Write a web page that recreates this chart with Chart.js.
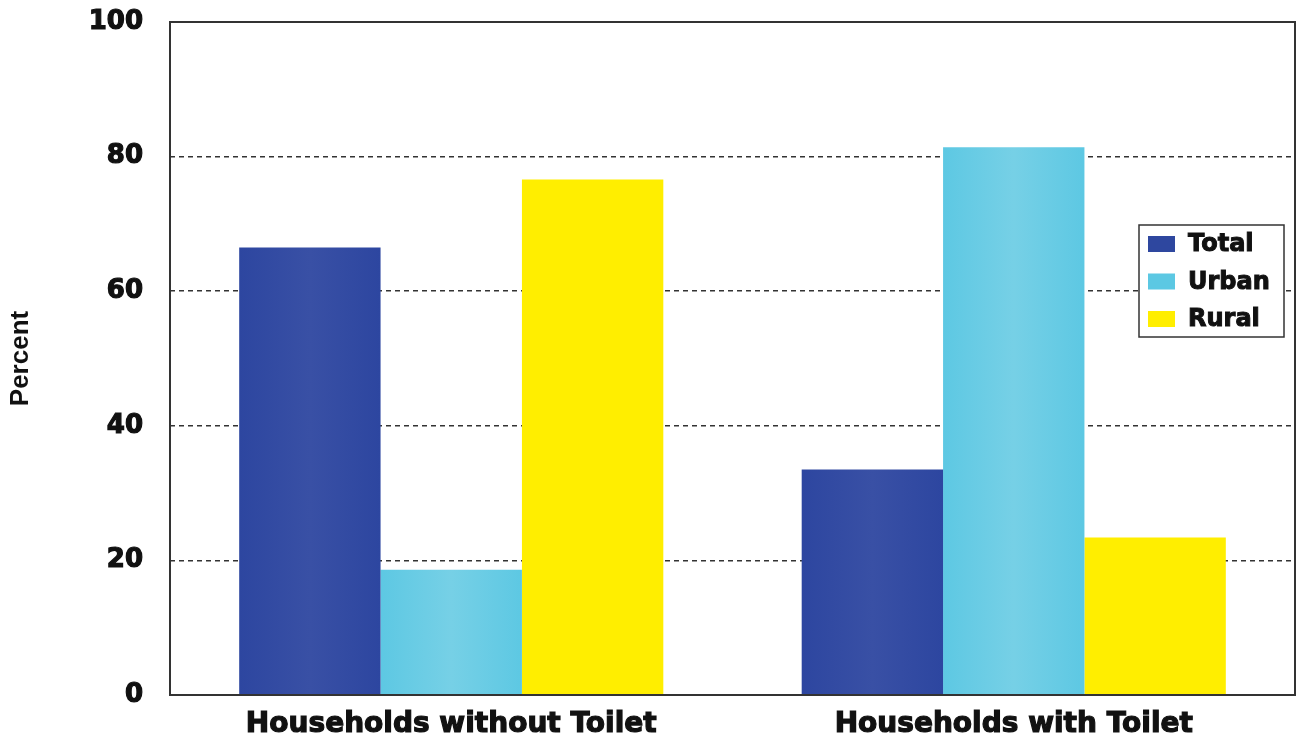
<!DOCTYPE html>
<html>
<head>
<meta charset="utf-8">
<script src="https://cdn.jsdelivr.net/npm/chart.js@4/dist/chart.umd.min.js"></script>
<style>
  html, body { margin: 0; padding: 0; background: #fff; }
  #wrap { width: 1300px; height: 742px; }
</style>
</head>
<body>
<div id="wrap"><canvas id="chart1" width="1300" height="742"></canvas></div>
<script>
const categories = ['Households without Toilet', 'Households with Toilet'];
const totalValues = [66.5, 33.5];
const urbanValues = [18.6, 81.4];
const ruralValues = [76.6, 23.4];
const yTicks = [0, 20, 40, 60, 80, 100];

const CAT_PCT = 0.754;

// horizontal shading across each bar: darker edges, lighter middle
function barShade(edge, mid) {
    return function (ctx) {
        const chart = ctx.chart;
        const x = chart.scales.x;
        if (!x || !chart.chartArea) return edge;
        const nSets = chart.data.datasets.length;
        const catW = (x.right - x.left) / chart.data.labels.length;
        const barW = catW * CAT_PCT / nSets;
        const c = x.getPixelForValue(ctx.dataIndex);
        const left = c - catW * CAT_PCT / 2 + barW * ctx.datasetIndex;
        const g = chart.ctx.createLinearGradient(left, 0, left + barW, 0);
        g.addColorStop(0, edge);
        g.addColorStop(0.5, mid);
        g.addColorStop(1, edge);
        return g;
    };
}

// frame round the plot area
const plotFrame = {
    id: 'plotFrame',
    afterDatasetsDraw(chart) {
        const a = chart.chartArea;
        const ctx = chart.ctx;
        ctx.save();
        ctx.strokeStyle = '#333';
        ctx.lineWidth = 2;
        ctx.strokeRect(a.left, a.top, a.right - a.left, a.bottom - a.top);
        ctx.restore();
    }
};

// legend box drawn inside the plot, right side
const boxLegend = {
    id: 'boxLegend',
    afterDraw(chart) {
        const ctx = chart.ctx;
        const x0 = 1139, y0 = 225, w = 145, h = 112;
        ctx.save();
        ctx.fillStyle = '#fff';
        ctx.fillRect(x0, y0, w, h);
        ctx.strokeStyle = '#333';
        ctx.lineWidth = 1.5;
        ctx.strokeRect(x0, y0, w, h);
        ctx.font = 'bold 24px "DejaVu Sans"';
        ctx.textBaseline = 'middle';
        ctx.lineWidth = 1;
        ctx.strokeStyle = '#111';
        chart.data.datasets.forEach((ds, i) => {
            const cy = 244 + i * 37.5;
            ctx.fillStyle = ds.legendColor;
            ctx.fillRect(x0 + 9, cy - 8, 27, 16);
            ctx.fillStyle = '#111';
            ctx.fillText(ds.label, x0 + 49, cy + 1);
            ctx.strokeText(ds.label, x0 + 49, cy + 1);
        });
        ctx.restore();
    }
};

const chart1Ctx = document.getElementById('chart1').getContext('2d');
const chart1 = new Chart(chart1Ctx, {
    type: 'bar',
    data: {
        labels: categories,
        datasets: [{
            label: 'Total',
            data: totalValues,
            backgroundColor: barShade('#2D46A0', '#3950A5'),
            legendColor: '#2E479F'
        }, {
            label: 'Urban',
            data: urbanValues,
            backgroundColor: barShade('#5DC8E3', '#76D0E6'),
            legendColor: '#5CC8E3'
        }, {
            label: 'Rural',
            data: ruralValues,
            backgroundColor: '#FFEE00',
            legendColor: '#FFEE00'
        }]
    },
    plugins: [plotFrame, boxLegend],
    options: {
        responsive: false,
        animation: false,
        categoryPercentage: CAT_PCT,
        barPercentage: 1.0,
        layout: { padding: { top: 22, right: 5, left: 0, bottom: 0 } },
        plugins: {
            legend: { display: false },
            tooltip: { enabled: false }
        },
        scales: {
            x: {
                grid: { display: false, drawTicks: false },
                border: { display: false },
                ticks: {
                    color: '#111',
                    padding: 13,
                    textStrokeColor: '#111',
                    textStrokeWidth: 1.2,
                    font: { family: 'DejaVu Sans', weight: 'bold', size: 28 }
                },
                afterFit(scale) { scale.height = 47; }
            },
            y: {
                min: 0,
                max: 100,
                afterBuildTicks(scale) {
                    scale.ticks = yTicks.map(v => ({ value: v }));
                },
                grid: {
                    drawTicks: false,
                    color: '#333',
                    lineWidth: 1.5
                },
                border: { display: false, dash: [5, 4] },
                ticks: {
                    color: '#111',
                    padding: 27,
                    textStrokeColor: '#111',
                    textStrokeWidth: 1.2,
                    font: { family: 'DejaVu Sans', weight: 'bold', size: 26 }
                },
                title: {
                    display: true,
                    text: 'Percent',
                    color: '#111',
                    padding: { top: 5, bottom: 0 },
                    font: { family: 'Liberation Sans', weight: 'bold', size: 26 }
                },
                afterFit(scale) {
                    scale.width = 170;
                    scale.paddingTop = 0;
                    scale.paddingBottom = 0;
                }
            }
        }
    }
});
</script>
</body>
</html>
